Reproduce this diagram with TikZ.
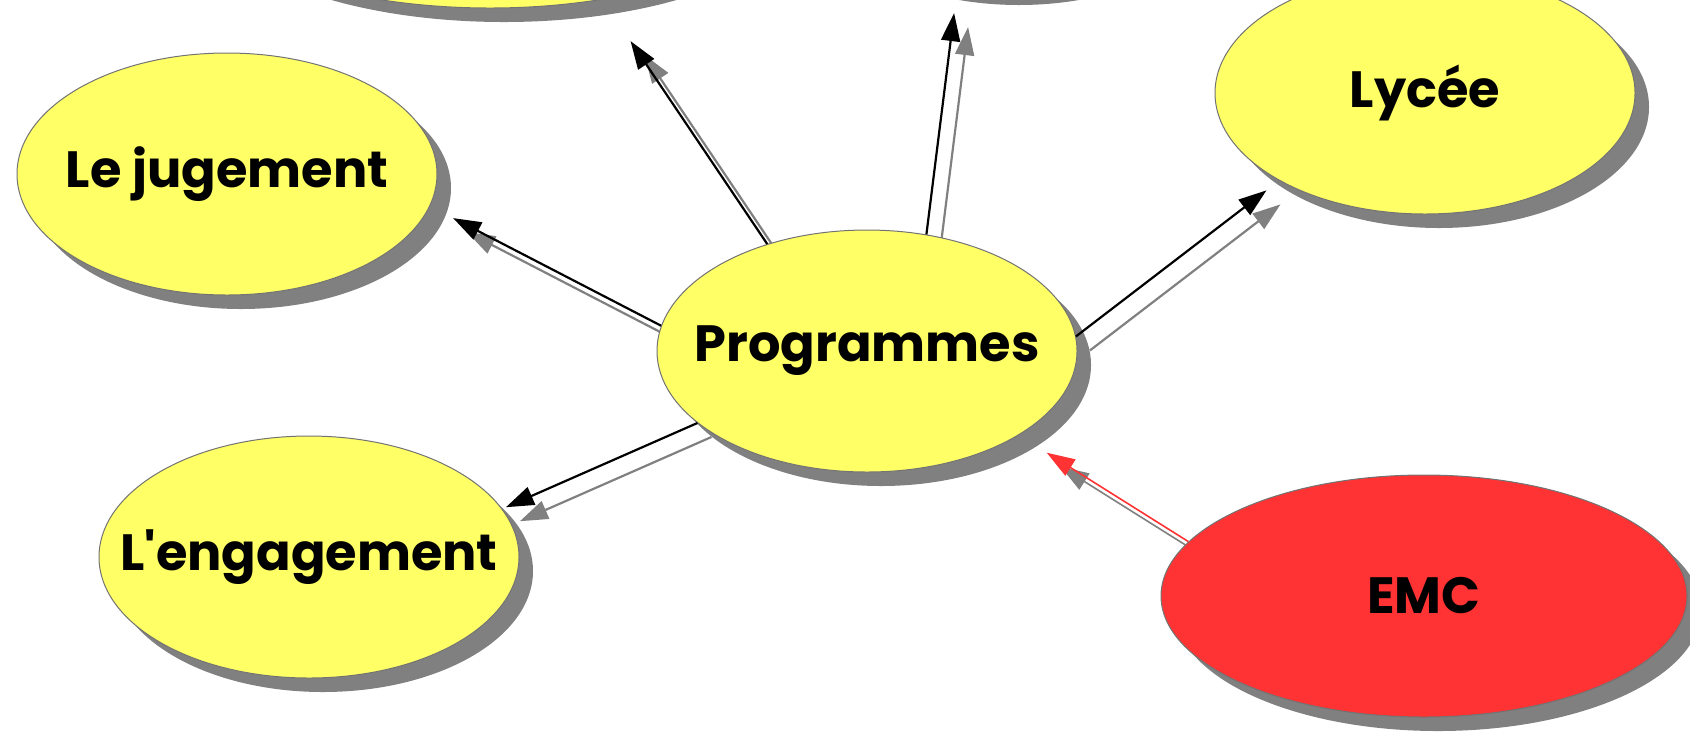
\documentclass[tikz,border=0pt]{standalone}
\usepackage{fontspec}
\newfontfamily\mapfont{Poppins}
\usepackage{tikz}
\usetikzlibrary{shapes.geometric,shadows,arrows.meta,backgrounds}
\definecolor{bulle}{RGB}{255,255,102}
\definecolor{rouge}{RGB}{255,51,51}
\definecolor{ombre}{RGB}{128,128,128}
% the text must not widen the ellipse
\newcommand{\mot}[1]{\makebox[0pt]{#1}}
\tikzstyle{idee}=[ellipse,draw=black!55,line width=0.5pt,fill=bulle,
  minimum width=210pt,minimum height=121pt,inner sep=0pt,
  font=\mapfont\bfseries\fontsize{25.5}{30}\selectfont,
  drop shadow={shadow xshift=7pt,shadow yshift=-7pt,fill=ombre,opacity=1}]
\tikzstyle{lien}=[-{Triangle[length=14pt,width=9.5pt]},line width=1.1pt]

\begin{document}
\begin{tikzpicture}[x=0.5pt,y=-0.5pt]
    \useasboundingbox (0,0) rectangle (1690,736);
    \clip (0,0) rectangle (1690,736);

          \node[idee,minimum width=300pt]       (haut1) at (490,-113) {};
          \node[idee]                           (haut2) at (1005,-130) {};
          \node[idee]                           (jug)   at (227,174)  {\mot{Le jugement}};
          \node[idee]                           (prog)  at (867,351)  {\mot{Programmes}};
          \node[idee]                           (lycee) at (1425,93)  {\mot{Lycée}};
          \node[idee]                           (eng)   at (309,557)  {\mot{L'engagement}};
          \node[idee,fill=rouge,minimum width=263pt] (emc) at (1424,596) {\mot{EMC}};

          % ombres des fleches
          \begin{scope}[on background layer]
          \begin{scope}[transform canvas={shift={(7pt,-7pt)}},ombre]
          \path[lien] (prog.173) edge[shorten >=13pt]   (jug.-9)
                      (prog.133) edge[shorten >=25pt]   (haut1.-45)
                      (prog.63)  edge[shorten >=12.5pt] (haut2.-112)
                      (prog.4)   edge[shorten >=8pt]    (lycee.-149)
                      (prog.-157) edge[shorten >=2pt]   (eng.14);
          \path[lien,line width=0.8pt] (emc.167) edge[shorten >=16.5pt] (prog.-29);
          \end{scope}
          \end{scope}

          \path[lien] (prog.173) edge[shorten >=13pt]   (jug.-9)
                      (prog.133) edge[shorten >=25pt]   (haut1.-45)
                      (prog.63)  edge[shorten >=12.5pt] (haut2.-112)
                      (prog.4)   edge[shorten >=8pt]    (lycee.-149)
                      (prog.-157) edge[shorten >=2pt]   (eng.14);
          \path[lien,rouge,line width=0.8pt] (emc.167) edge[shorten >=16.5pt] (prog.-29);
        \end{tikzpicture}
\end{document}
